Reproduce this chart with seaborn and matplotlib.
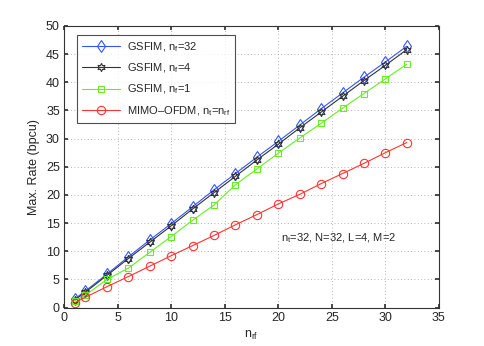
import numpy as np
import pandas as pd
import matplotlib
matplotlib.use("Agg")
import matplotlib.pyplot as plt
import seaborn as sns

n_rf = [1, 2, 4, 6, 8, 10, 12, 14, 16, 18, 20, 22, 24, 26, 28, 30, 32]
gsfim_32 = [1.55, 2.96, 5.93, 9.0, 12.0, 14.9, 17.9, 20.9, 23.8, 26.7, 29.5, 32.4, 35.3, 38.1, 40.9, 43.6, 46.4]
gsfim_4 = [1.35, 2.75, 5.7, 8.7, 11.6, 14.5, 17.5, 20.4, 23.3, 26.2, 29.0, 31.9, 34.7, 37.5, 40.3, 43.0, 45.8]
gsfim_1 = [1.2, 2.2, 5.0, 7.0, 9.8, 12.6, 15.5, 18.2, 21.8, 24.6, 27.4, 30.1, 32.7, 35.4, 38.0, 40.6, 43.2]
mimo_ofdm = [0.85, 1.85, 3.7, 5.5, 7.35, 9.2, 11.0, 12.8, 14.7, 16.5, 18.4, 20.1, 22.0, 23.8, 25.6, 27.5, 29.3]

labels = ["GSFIM, n$_{f}$=32", "GSFIM, n$_{f}$=4", "GSFIM, n$_{f}$=1",
          "MIMO\u2013OFDM, n$_{t}$=n$_{rf}$"]
x_ticks = [0, 5, 10, 15, 20, 25, 30, 35]
y_ticks = [0, 5, 10, 15, 20, 25, 30, 35, 40, 45, 50]

sns.set_theme(style="white")
plt.rcParams['font.family'] = ['Liberation Sans', 'DejaVu Sans']
plt.rcParams['mathtext.fontset'] = 'custom'
plt.rcParams['mathtext.rm'] = 'Liberation Sans'
plt.rcParams['mathtext.it'] = 'Liberation Sans'

fs = 8

fig = plt.figure(figsize=(4.85, 3.46), dpi=100)
ax = fig.add_axes([0.132, 0.111, 0.773, 0.814])

series = [gsfim_32, gsfim_4, gsfim_1, mimo_ofdm]
colors = ["#3355ff", "#333333", "#66ee22", "#ff3333"]
markers = ["d", (6, 1, 0), "s", "o"]
msizes = [6.5, 6, 5, 6]

for vals, lab, c, m, ms in zip(series, labels, colors, markers, msizes):
    df = pd.DataFrame({"n_rf": n_rf, "rate": vals})
    sns.lineplot(data=df, x="n_rf", y="rate", ax=ax, color=c, label=lab,
                 marker=m, markersize=ms, markerfacecolor="none",
                 markeredgecolor=c, markeredgewidth=0.8, linewidth=0.8)

ax.set_xlim(0, 35)
ax.set_ylim(0, 50)
ax.set_xticks(x_ticks)
ax.set_yticks(y_ticks)
ax.tick_params(direction="in", length=3, labelsize=fs + 1, color="#333333",
               top=True, right=True, bottom=True, left=True, pad=3)
ax.grid(True, linestyle=(0, (1, 3)), color="#999999", linewidth=0.6)
for sp in ax.spines.values():
    sp.set_color("#333333")
    sp.set_linewidth(0.8)

ax.set_xlabel("n$_{rf}$", fontsize=fs + 1)
ax.set_ylabel("Max. Rate (bpcu)", fontsize=fs + 1)

ax.text(20.3, 12.3, "n$_{t}$=32, N=32, L=4, M=2", fontsize=fs, va="center", ha="left")

leg = ax.legend(loc="upper left", bbox_to_anchor=(0.035, 0.968), fontsize=fs,
                frameon=True, fancybox=False, edgecolor="#222222",
                handlelength=3.4, handletextpad=0.6, borderpad=0.45,
                labelspacing=0.7, borderaxespad=0)
leg.get_frame().set_linewidth(0.8)

fig.savefig("out.png", dpi=100)
